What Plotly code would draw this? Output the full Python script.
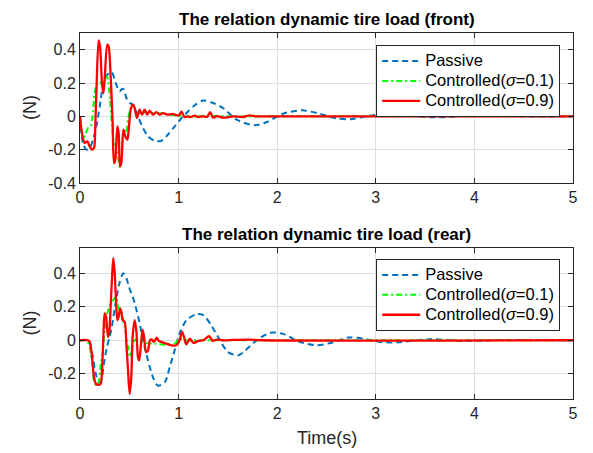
import plotly.graph_objects as go

# ---------------- data ----------------
x_ticks = [0, 1, 2, 3, 4, 5]
x_tick_labels = ["0", "1", "2", "3", "4", "5"]
front_y_ticks = [-0.4, -0.2, 0, 0.2, 0.4]
front_y_labels = ["-0.4", "-0.2", "0", "0.2", "0.4"]
rear_y_ticks = [-0.2, 0, 0.2, 0.4]
rear_y_labels = ["-0.2", "0", "0.2", "0.4"]

series_names = ["Passive", "Controlled(<i>σ</i>=0.1)", "Controlled(<i>σ</i>=0.9)"]

# front - passive
t_front_passive = [0, 0.03, 0.064, 0.098, 0.132, 0.166, 0.2, 0.233, 0.277, 0.32, 0.368, 0.402,
                   0.425, 0.446, 0.47, 0.504, 0.537, 0.588, 0.639, 0.69, 0.757, 0.825, 0.89,
                   0.96, 1.03, 1.08, 1.17, 1.25, 1.35, 1.45, 1.59, 1.77, 1.89, 2.06, 2.25,
                   2.43, 2.6, 2.74, 2.94, 3.11, 3.3, 3.5, 3.7, 3.95, 4.2, 4.5, 5.0]
y_front_passive = [0, -0.16, -0.2, -0.19, -0.14, -0.06, 0.06, 0.18, 0.25, 0.265, 0.19, 0.15,
                   0.165, 0.16, 0.11, 0.08, 0.07, 0.0, -0.07, -0.12, -0.147, -0.147, -0.11,
                   -0.06, -0.01, 0.02, 0.07, 0.095, 0.08, 0.05, -0.02, -0.053, -0.035, 0.016, 0.036,
                   0.016, -0.012, -0.018, 0.004, 0.015, 0.008, -0.004, -0.005, 0.006, 0.004, 0.0, 0]

# front - controlled sigma=0.1
t_front_c01 = [0, 0.03, 0.054, 0.081, 0.108, 0.128, 0.149, 0.176, 0.203, 0.23, 0.257, 0.277,
               0.304, 0.325, 0.345, 0.365, 0.385, 0.406, 0.426, 0.446, 0.467, 0.487, 0.514,
               0.541, 0.571, 0.605, 0.656, 0.707, 0.79, 0.86, 0.96, 1.06, 1.3, 1.6, 2.0, 5.0]
y_front_c01 = [0, -0.13, -0.11, -0.07, -0.06, 0.0, 0.14, 0.2, 0.21, 0.18, 0.24, 0.23,
               0.1, -0.06, -0.16, -0.18, -0.24, -0.31, -0.2, -0.08, -0.1, -0.02, 0.05,
               0.07, 0.03, 0.03, 0.025, 0.02, 0.02, 0.015, 0.006, 0.0, 0.003, 0.0, 0, 0]

# front - controlled sigma=0.9
t_front_c09 = [0, 0.02, 0.047, 0.074, 0.098, 0.122, 0.142, 0.155, 0.169, 0.189, 0.203, 0.223,
               0.237, 0.25, 0.277, 0.29, 0.311, 0.331, 0.345, 0.358, 0.379, 0.392, 0.406,
               0.419, 0.44, 0.46, 0.48, 0.494, 0.514, 0.537, 0.554, 0.578, 0.605, 0.629,
               0.656, 0.683, 0.707, 0.74, 0.774, 0.81, 0.84, 0.89, 0.94, 1.0, 1.03, 1.06,
               1.09, 1.12, 1.16, 1.2, 1.25, 1.29, 1.32, 1.35, 1.39, 1.45, 1.55, 1.65, 1.72,
               1.78, 1.9, 2.2, 5.0]
y_front_c09 = [0, -0.1, -0.16, -0.15, -0.18, -0.2, -0.19, -0.06, 0.2, 0.456, 0.42, 0.2,
               0.14, 0.22, 0.43, 0.42, 0.24, -0.04, -0.28, -0.26, -0.06, -0.1, -0.3,
               -0.28, -0.08, -0.12, -0.14, -0.08, 0.04, 0.07, 0.05, -0.01, 0.04, 0.01,
               0.04, 0.01, 0.035, 0.01, 0.025, 0.01, 0.02, 0.01, 0.015, 0.005, 0.028, -0.005,
               0.0, -0.005, 0.004, -0.004, 0.0, -0.002, 0.026, -0.008, 0.002, -0.008, 0.0,
               -0.004, 0.006, 0.0, 0, 0, 0]

# rear - passive
t_rear_passive = [0, 0.07, 0.1, 0.13, 0.16, 0.19, 0.215, 0.24, 0.27, 0.3, 0.32, 0.355, 0.4,
                  0.44, 0.47, 0.507, 0.54, 0.59, 0.64, 0.69, 0.74, 0.79, 0.86, 0.91, 0.96,
                  1.01, 1.08, 1.18, 1.25, 1.33, 1.42, 1.5, 1.6, 1.66, 1.77, 1.93, 2.06, 2.23,
                  2.4, 2.54, 2.72, 2.87, 3.04, 3.21, 3.55, 3.89, 4.3, 5.0]
y_rear_passive = [0, 0, -0.02, -0.1, -0.2, -0.25, -0.24, -0.15, -0.05, 0.02, 0.07, 0.2, 0.34,
                  0.4, 0.37, 0.3, 0.25, 0.14, 0.0, -0.12, -0.22, -0.27, -0.25, -0.16, -0.06,
                  0.04, 0.12, 0.155, 0.15, 0.09, 0.0, -0.07, -0.09, -0.07, -0.01, 0.045, 0.038,
                  -0.01, -0.03, -0.016, 0.016, 0.01, -0.01, -0.012, 0.006, -0.004, 0.002, 0]

# rear - controlled sigma=0.1
t_rear_c01 = [0, 0.064, 0.098, 0.122, 0.142, 0.166, 0.19, 0.21, 0.23, 0.25, 0.277, 0.304,
              0.338, 0.365, 0.385, 0.419, 0.453, 0.487, 0.507, 0.527, 0.554, 0.588, 0.656,
              0.757, 0.86, 0.96, 1.01, 1.06, 1.2, 1.5, 5.0]
y_rear_c01 = [0, 0, -0.04, -0.14, -0.24, -0.27, -0.25, -0.14, -0.08, 0.06, 0.16, 0.21,
              0.24, 0.26, 0.2, 0.17, 0.08, -0.04, -0.1, -0.06, 0.0, 0.004, -0.016,
              -0.02, -0.026, -0.02, 0.01, 0.0, 0.0, 0.0, 0]

# rear - controlled sigma=0.9
t_rear_c09 = [0, 0.081, 0.1, 0.122, 0.142, 0.162, 0.19, 0.21, 0.223, 0.237, 0.25, 0.264,
              0.284, 0.297, 0.311, 0.325, 0.338, 0.352, 0.365, 0.379, 0.392, 0.406, 0.419,
              0.433, 0.453, 0.47, 0.487, 0.504, 0.52, 0.534, 0.554, 0.571, 0.588, 0.6,
              0.622, 0.635, 0.65, 0.67, 0.69, 0.71, 0.73, 0.75, 0.778, 0.798, 0.825, 0.875,
              0.926, 0.977, 1.01, 1.035, 1.055, 1.078, 1.115, 1.15, 1.2, 1.25, 1.31, 1.345,
              1.385, 1.45, 1.55, 1.72, 1.85, 5.0]
y_rear_c09 = [0, 0, -0.01, -0.1, -0.22, -0.26, -0.265, -0.26, -0.18, 0.02, 0.16, 0.14,
              0.02, 0.05, 0.2, 0.38, 0.49, 0.4, 0.24, 0.12, 0.14, 0.19, 0.17,
              0.12, 0.11, -0.02, -0.18, -0.32, -0.22, 0.02, 0.12, 0.06, -0.1, -0.12,
              0.0, 0.064, 0.02, -0.07, -0.06, 0.0, 0.004, -0.01, 0.016, -0.004, -0.01, -0.02,
              -0.03, -0.03, 0.0, 0.05, 0.02, -0.024, 0.01, -0.016, -0.004, 0.0, 0.024, -0.004,
              0.004, 0.0, 0.002, 0.004, 0, 0]

# ---------------- figure ----------------
BLUE = "#0072BD"
GREEN = "#00FF00"
RED = "#FF0000"
FONT = "Liberation Sans, Arial, Helvetica, sans-serif"
AXC = "#262626"

styles = [
    dict(color=BLUE, width=2, dash="6px,4px"),
    dict(color=GREEN, width=2, dash="6px,3px,2px,3px"),
    dict(color=RED, width=2.3),
]

# legend text shown a bit larger than the legend's row-height font
legend_labels = ['<span style="font-size:16.5px">' + n + '</span>' for n in series_names]

fig = go.Figure()

front = [(t_front_passive, y_front_passive), (t_front_c01, y_front_c01), (t_front_c09, y_front_c09)]
rear = [(t_rear_passive, y_rear_passive), (t_rear_c01, y_rear_c01), (t_rear_c09, y_rear_c09)]

for i, (tt, yy) in enumerate(front):
    fig.add_trace(go.Scatter(x=tt, y=yy, mode="lines", name=legend_labels[i],
                             line=dict(shape="spline", smoothing=0.8, **styles[i]),
                             xaxis="x", yaxis="y", legend="legend"))
for i, (tt, yy) in enumerate(rear):
    fig.add_trace(go.Scatter(x=tt, y=yy, mode="lines", name=legend_labels[i],
                             line=dict(shape="spline", smoothing=0.8, **styles[i]),
                             xaxis="x2", yaxis="y2", legend="legend2"))

axis_common = dict(showline=True, linecolor=AXC, linewidth=1, mirror="ticks",
                   ticks="inside", ticklen=5, tickcolor=AXC, showgrid=True,
                   gridcolor="#dedede", gridwidth=1, zeroline=False,
                   tickfont=dict(family=FONT, size=16, color=AXC))

top_dom = [0.590, 1.0]
bot_dom = [0.0, 0.4126]

legend_common = dict(xanchor="right", yanchor="top", bgcolor="white", bordercolor=AXC,
                     borderwidth=1, font=dict(family=FONT, size=13, color="black"),
                     itemwidth=38, tracegroupgap=0)

fig.update_layout(
    width=593, height=453,
    margin=dict(l=80, r=20, t=33, b=54),
    paper_bgcolor="white", plot_bgcolor="white",
    font=dict(family=FONT, color=AXC),
    xaxis=dict(domain=[0, 1], range=[0, 5], tickvals=x_ticks, ticktext=x_tick_labels,
               anchor="y", **axis_common),
    yaxis=dict(domain=top_dom, range=[-0.4, 0.5], tickvals=front_y_ticks,
               ticktext=front_y_labels, anchor="x", **axis_common),
    xaxis2=dict(domain=[0, 1], range=[0, 5], tickvals=x_ticks, ticktext=x_tick_labels,
                anchor="y2", **axis_common),
    yaxis2=dict(domain=bot_dom, range=[-0.35, 0.55], tickvals=rear_y_ticks,
                ticktext=rear_y_labels, anchor="x2", **axis_common),
    legend=dict(x=0.974, y=0.967, **legend_common),
    legend2=dict(x=0.974, y=0.3825, **legend_common),
    showlegend=True,
)

annotations = [
    dict(text="<b>The relation dynamic tire load (front)</b>", xref="paper", yref="paper",
         x=0.5, y=1.0, xanchor="center", yanchor="middle", yshift=14, showarrow=False,
         font=dict(family=FONT, size=17, color="black")),
    dict(text="<b>The relation dynamic tire load (rear)</b>", xref="paper", yref="paper",
         x=0.5, y=bot_dom[1], xanchor="center", yanchor="middle", yshift=13, showarrow=False,
         font=dict(family=FONT, size=17, color="black")),
    dict(text="(N)", xref="paper", yref="paper", x=0.0, y=(top_dom[0] + top_dom[1]) / 2,
         xanchor="center", yanchor="middle", xshift=-50, textangle=-90, showarrow=False,
         font=dict(family=FONT, size=18, color=AXC)),
    dict(text="(N)", xref="paper", yref="paper", x=0.0, y=(bot_dom[0] + bot_dom[1]) / 2,
         xanchor="center", yanchor="middle", xshift=-50, textangle=-90, showarrow=False,
         font=dict(family=FONT, size=18, color=AXC)),
    dict(text="Time(s)", xref="paper", yref="paper", x=0.5, y=0.0,
         xanchor="center", yanchor="middle", yshift=-39, showarrow=False,
         font=dict(family=FONT, size=18, color=AXC)),
]
fig.update_layout(annotations=annotations)

# remove the browser's default page margin so the 593x453 figure fills the window exactly
page_fix = ("document.documentElement.style.margin='0';"
            "document.documentElement.style.overflow='hidden';"
            "document.body.style.margin='0';"
            "document.body.style.overflow='hidden';")

fig.write_html("out.html", post_script=page_fix, config={"displayModeBar": False})
